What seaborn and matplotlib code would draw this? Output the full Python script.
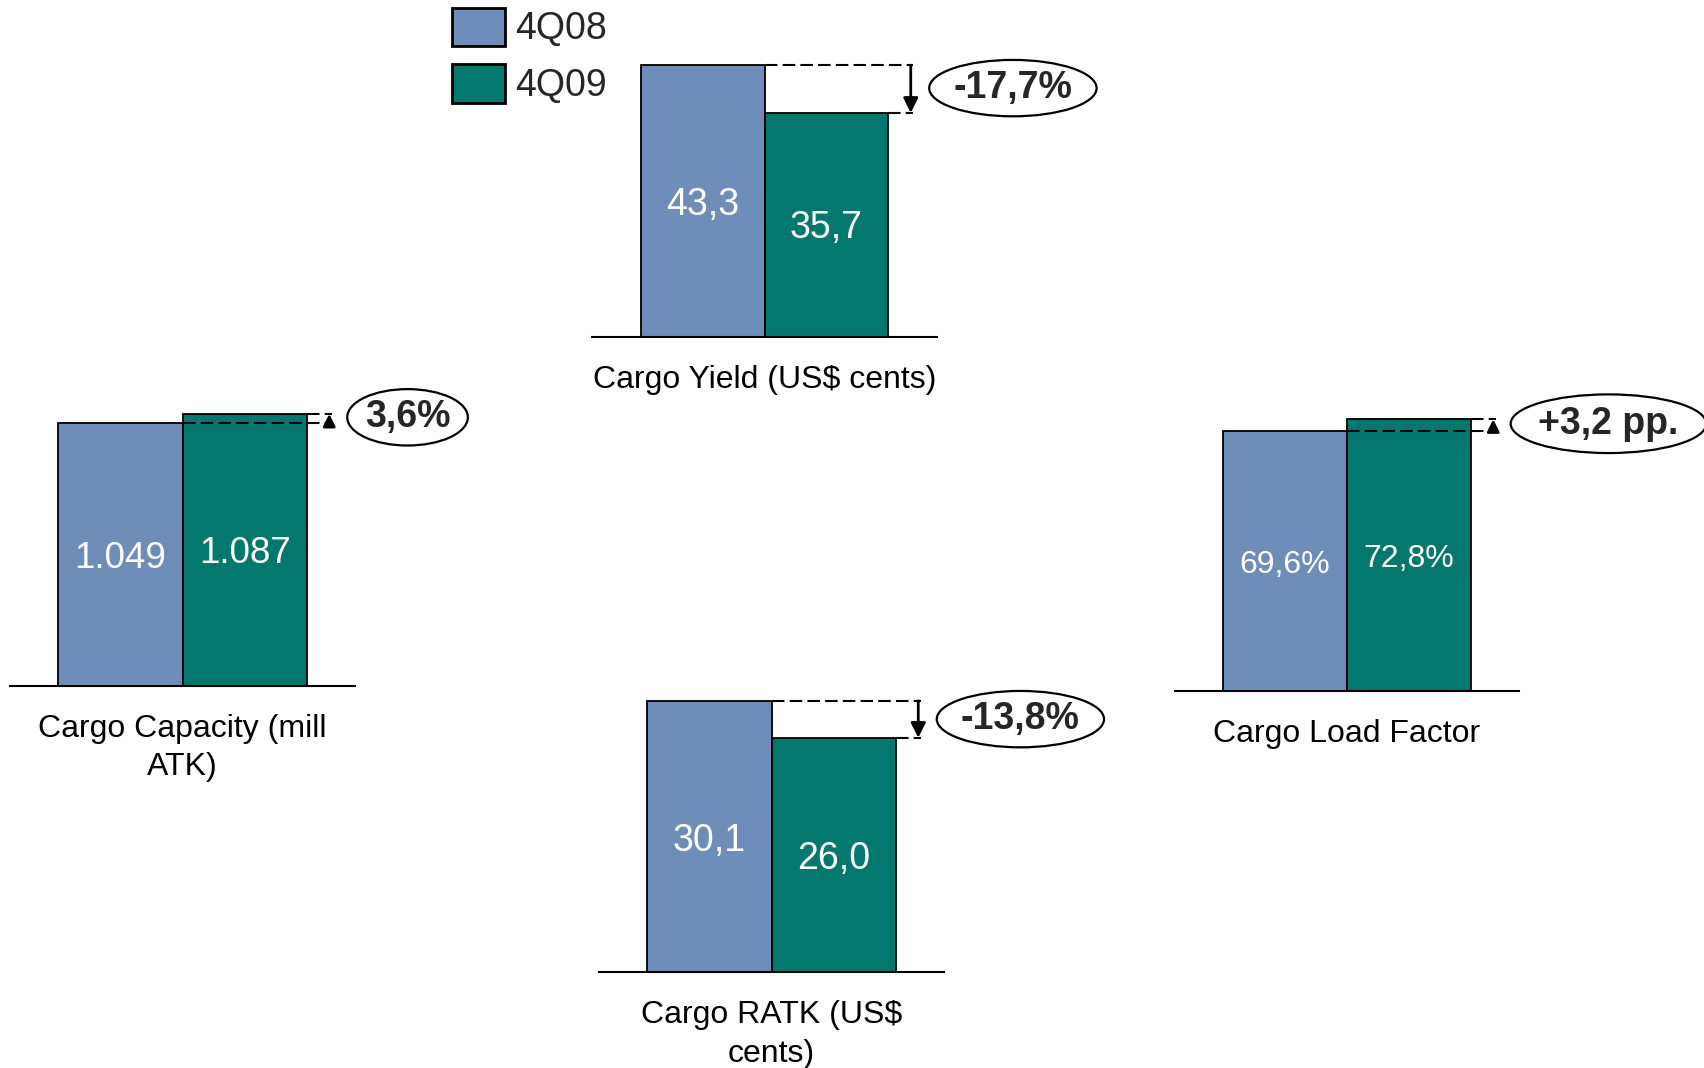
import matplotlib
matplotlib.use("Agg")
import matplotlib.pyplot as plt
import seaborn as sns
import pandas as pd
from matplotlib.patches import Ellipse, Patch

# ---------------- data ----------------
periods = ["4Q08", "4Q09"]
metrics = ["Cargo Yield (US$ cents)", "Cargo Capacity (mill\nATK)",
           "Cargo Load Factor", "Cargo RATK (US$\ncents)"]
yield_vals = [43.3, 35.7]
capacity_vals = [1049, 1087]
load_factor_vals = [69.6, 72.8]
ratk_vals = [30.1, 26.0]
yield_labels = ["43,3", "35,7"]
capacity_labels = ["1.049", "1.087"]
load_factor_labels = ["69,6%", "72,8%"]
ratk_labels = ["30,1", "26,0"]
changes = ["-17,7%", "3,6%", "+3,2 pp.", "-13,8%"]

# ---------------- style ----------------
colors = ["#6F8DB9", "#04786E"]
sns.set_theme(style="white")
plt.rcParams["font.family"] = ["Liberation Sans", "DejaVu Sans"]

W, H = 1568.0, 983.0  # layout reference units

fig = plt.figure(figsize=(17.04, 10.68), dpi=100)
fig.patch.set_facecolor("white")


def panel(left, right, base, metric, vals, labels, change, value_fs, ell, small):
    rect = [left / W, 1 - base / H, (right - left) / W, 300 / H]
    ax = fig.add_axes(rect)
    ax.set_facecolor("none")
    df = pd.DataFrame({"metric": [metric] * 2, "period": periods, "value": vals})
    sns.barplot(data=df, x="metric", y="value", hue="period", hue_order=periods,
                palette=colors, edgecolor="black", linewidth=1.3, width=0.8,
                saturation=1, ax=ax, legend=False, errorbar=None)
    ax.set_xlim(-0.556, 0.556)
    ax.set_ylim(0, max(vals) * 1.2)
    ax.set_xticks([])
    ax.set_yticks([])
    ax.set_xlabel("")
    ax.set_ylabel("")
    for s in ["top", "left", "right"]:
        ax.spines[s].set_visible(False)
    ax.spines["bottom"].set_color("black")
    ax.spines["bottom"].set_linewidth(1.5)

    bars = ax.patches[:2]
    for p, lab in zip(bars, labels):
        ax.text(p.get_x() + p.get_width() / 2, p.get_height() * 0.485, lab,
                color="white", fontsize=value_fs, ha="center", va="center")

    b, g = bars
    y0, y1 = b.get_height(), g.get_height()
    gl, gr = g.get_x(), g.get_x() + g.get_width()
    xa = gr + 0.072
    dash_kw = dict(color="black", lw=1.5, ls=(0, (6, 2.5)), clip_on=False, zorder=4)
    ax.plot([gl, xa + 0.008], [y0, y0], **dash_kw)
    ax.plot([gr, xa + 0.008], [y1, y1], **dash_kw)
    ax.annotate("", xy=(xa, y1), xytext=(xa, y0),
                arrowprops=dict(arrowstyle="-|>", color="black", lw=2.0,
                                mutation_scale=18 if small else 22,
                                shrinkA=0, shrinkB=0),
                annotation_clip=False, zorder=5)

    cx, cy, ew, eh = ell
    e = Ellipse((cx, cy), ew, eh, transform=ax.transAxes, facecolor="white",
                edgecolor="black", lw=1.6, clip_on=False, zorder=5)
    ax.add_patch(e)
    ax.text(cx, cy, change, transform=ax.transAxes, fontsize=27, fontweight="bold",
            ha="center", va="center", zorder=6, clip_on=False)

    ax.text(0.5, -0.086, metric, transform=ax.transAxes, fontsize=23,
            ha="center", va="top", linespacing=1.38, color="black")
    return ax


panel(545, 862, 310, metrics[0], yield_vals, yield_labels, changes[0], 27,
      (1.221, 0.763, 0.486, 0.173), False)
panel(9, 327, 631, metrics[1], capacity_vals, capacity_labels, changes[1], 26.5,
      (1.151, 0.823, 0.349, 0.173), True)
panel(1081, 1398, 636, metrics[2], load_factor_vals, load_factor_labels, changes[2], 23,
      (1.259, 0.820, 0.568, 0.180), True)
panel(551, 869, 895, metrics[3], ratk_vals, ratk_labels, changes[3], 27,
      (1.220, 0.777, 0.484, 0.173), False)

handles = [Patch(facecolor=c, edgecolor="black", linewidth=2) for c in colors]
fig.legend(handles, periods, loc="upper left", bbox_to_anchor=(416 / W, 1 - 7 / H),
           frameon=False, fontsize=27, handlelength=1.42, handleheight=1.2,
           handletextpad=0.25, labelspacing=0.45, borderpad=0, borderaxespad=0)

fig.savefig("out.png", dpi=100, facecolor="white")
